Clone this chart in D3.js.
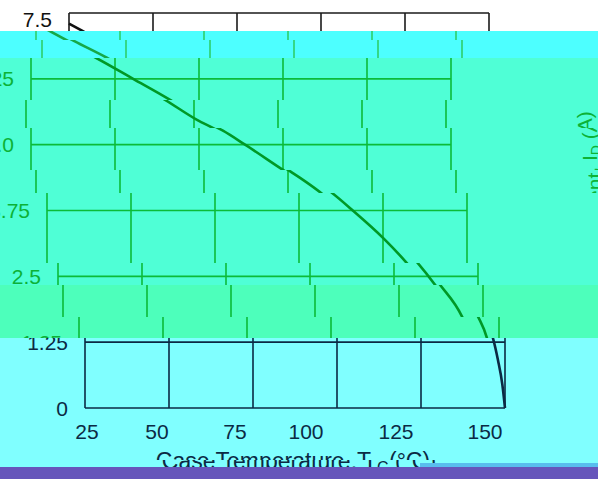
<!DOCTYPE html>
<html><head><meta charset="utf-8">
<script src="https://cdn.jsdelivr.net/npm/d3@7"></script>
<style>html,body{margin:0;padding:0;overflow:hidden;background:#fff}svg{display:block}</style>
</head><body>
<svg id="c" width="598" height="479"></svg>
<script>
// ---- data ----
const tempC    = [25, 29, 34.5, 44.3, 55.4, 66.4, 75.9, 82, 88.7, 100, 103.6, 109.5, 116, 125, 132.1, 137.2, 143.8, 146.4, 147.9, 149.2, 150];
const currentA = [7.30, 7.16, 6.97, 6.65, 6.25, 5.85, 5.47, 5.27, 5.0, 4.52, 4.37, 4.10, 3.75, 3.23, 2.75, 2.34, 1.73, 1.33, 0.91, 0.45, 0];
const xTickValues = [25, 50, 75, 100, 125, 150];
const xTickLabels = ["25", "50", "75", "100", "125", "150"];
const yTickValues = [0, 1.25, 2.5, 3.75, 5, 6.25, 7.5];
const yTickLabels = ["0", "1.25", "2.5", "3.75", "5.0", "6.25", "7.5"];
const xTitleParts = ["Case Temperature, T", "C", " (°C)"];
const yTitleParts = ["Drain Current, I", "D", " (A)"];

// ---- layout / glitch styling ----
const W = 598, H = 479;
const FONT = "'Liberation Sans', Arial, Helvetica, sans-serif";
const xLabelNudge = [2, -12, -18, -31, -25, -20];
const bands = [
  {y0:0,   y1:31,  dx:-16, bg:"#ffffff", ink:"#1a1a1a", curve:"#111111", text:"#111111"},
  {y0:31,  y1:40,  dx:-49, bg:"#4dffff", ink:"#2fcf6a", curve:"#17a848", text:"#2fcf6a"},
  {y0:40,  y1:58,  dx:-43, bg:"#4dffff", ink:"#2fcf6a", curve:"#17a848", text:"#2fcf6a"},
  {y0:58,  y1:100, dx:-54, bg:"#4fffd6", ink:"#0cbb38", curve:"#009926", text:"#0cb236"},
  {y0:100, y1:128, dx:-59, bg:"#4fffd6", ink:"#0cbb38", curve:"#009926", text:"#0cb236"},
  {y0:128, y1:170, dx:-54, bg:"#4fffd6", ink:"#0cbb38", curve:"#009926", text:"#0cb236"},
  {y0:170, y1:193, dx:-49, bg:"#4fffd6", ink:"#0cbb38", curve:"#009926", text:"#0cb236"},
  {y0:193, y1:263, dx:-38, bg:"#4fffd6", ink:"#0cbb38", curve:"#009926", text:"#0cb236"},
  {y0:263, y1:285, dx:-27, bg:"#4fffd6", ink:"#0cbb38", curve:"#009926", text:"#0cb236"},
  {y0:285, y1:317, dx:-22, bg:"#4dffbb", ink:"#0cbb38", curve:"#009926", text:"#0cb236"},
  {y0:317, y1:338, dx:-6,  bg:"#4dffbb", ink:"#0cbb38", curve:"#009926", text:"#0cb236"},
  {y0:338, y1:460, dx:0,   bg:"#80ffff", ink:"#0b2a44", curve:"#0b2a44", text:"#0b2a44"},
  {y0:460, y1:467, dx:6,   bg:"#80ffff", ink:"#0b2a44", curve:"#0b2a44", text:"#0b2a44"}
];

const svg = d3.select("#c");
const x = d3.scaleLinear().domain([25, 150]).range([85, 505]);
const y = d3.scaleLinear().domain([0, 7.5]).range([408, 13]);
const pts = tempC.map((t, i) => [t, currentA[i]]);
const line = d3.line().x(d => x(d[0])).y(d => y(d[1])).curve(d3.curveMonotoneX);

const hits = (b, top, bot) => bot > b.y0 && top < b.y1;

function drawChart(g, c) {
  // vertical grid
  g.append("g").selectAll("line").data(xTickValues).join("line")
    .attr("x1", d => x(d)).attr("x2", d => x(d))
    .attr("y1", y(7.5)).attr("y2", y(0))
    .attr("stroke", c.ink).attr("stroke-width", 1.6);
  // horizontal grid
  g.append("g").selectAll("line").data(yTickValues).join("line")
    .attr("x1", x(25)).attr("x2", x(150))
    .attr("y1", d => y(d)).attr("y2", d => y(d))
    .attr("stroke", c.ink).attr("stroke-width", 1.6);
  // y tick labels (only where this band shows them)
  const ly = d => Math.max(y(d), 19);
  const yIdx = yTickValues.map((d, i) => i).filter(i => hits(c, ly(yTickValues[i]) - 9, ly(yTickValues[i]) + 9));
  g.append("g").selectAll("text").data(yIdx).join("text")
    .attr("x", x(25) - 17).attr("y", i => ly(yTickValues[i])).attr("dy", "0.36em")
    .attr("text-anchor", "end").attr("font-family", FONT).attr("font-size", 21)
    .attr("fill", c.text).text(i => yTickLabels[i]);
  // x tick labels
  if (hits(c, 423, 440)) {
    g.append("g").selectAll("text").data(xTickValues).join("text")
      .attr("x", (d, i) => x(d) + xLabelNudge[i]).attr("y", 439)
      .attr("text-anchor", "middle").attr("font-family", FONT).attr("font-size", 21)
      .attr("fill", c.text).text((d, i) => xTickLabels[i]);
  }
  // curve
  g.append("path").datum(pts).attr("d", line)
    .attr("fill", "none").attr("stroke", c.curve).attr("stroke-width", 2.6);
  // x title
  if (hits(c, 450, 474)) {
    const xt = g.append("text").attr("x", (x(25) + x(150)) / 2 - 2).attr("y", 469)
      .attr("text-anchor", "middle").attr("font-family", FONT).attr("font-size", 23)
      .attr("fill", c.text);
    xt.append("tspan").text(xTitleParts[0]);
    xt.append("tspan").attr("font-size", 16).attr("dy", 4).text(xTitleParts[1]);
    xt.append("tspan").attr("dy", -4).text(xTitleParts[2]);
  }
  // y title (rotated) - only in bands shifted far enough to show it
  if (c.dx <= -40 && hits(c, 100, 310)) {
    const yt = g.append("text").attr("transform", "translate(651,205) rotate(-90)")
      .attr("text-anchor", "middle").attr("font-family", FONT).attr("font-size", 21)
      .attr("fill", c.text);
    yt.append("tspan").text(yTitleParts[0]);
    yt.append("tspan").attr("font-size", 14).attr("dy", 4).text(yTitleParts[1]);
    yt.append("tspan").attr("dy", -4).text(yTitleParts[2]);
  }
}

const defs = svg.append("defs");
bands.forEach((b, i) => {
  defs.append("clipPath").attr("id", "band" + i)
    .append("rect").attr("x", 0).attr("y", b.y0).attr("width", W).attr("height", b.y1 - b.y0);
  const outer = svg.append("g").attr("clip-path", `url(#band${i})`);
  outer.append("rect").attr("x", 0).attr("y", b.y0).attr("width", W).attr("height", b.y1 - b.y0).attr("fill", b.bg);
  const inner = outer.append("g").attr("transform", `translate(${b.dx},0)`);
  drawChart(inner, b);
});
// light strip and bottom bar
svg.append("rect").attr("x", 420).attr("y", 463).attr("width", W - 420).attr("height", 4).attr("fill", "#58bdee");
svg.append("rect").attr("x", 0).attr("y", 467).attr("width", W).attr("height", H - 467).attr("fill", "#6655bb");
</script>
</body></html>
